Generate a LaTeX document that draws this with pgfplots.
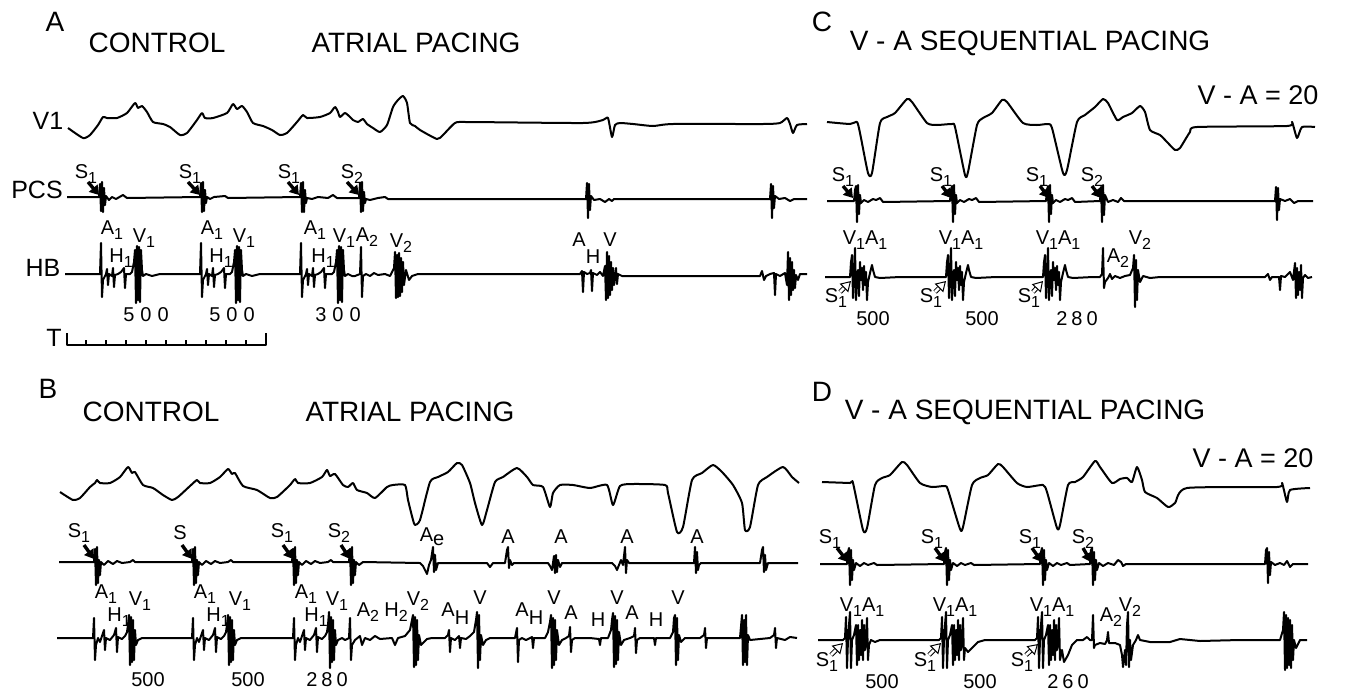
\documentclass[border=0pt]{standalone}
\usepackage{fontspec}
\setmainfont{Liberation Sans}
\usepackage{pgfplots}
\pgfplotsset{compat=1.18}
\usetikzlibrary{arrows.meta}

\newcommand{\sub}[1]{\raisebox{-0.45ex}{\fontsize{8pt}{8pt}\selectfont #1}}
\tikzset{
    trace/.style={black, solid, line width=1pt, line join=round},
    ecg/.style={trace, smooth, tension=0.35},
    ttl/.style={font=\fontsize{14pt}{16pt}\selectfont, inner sep=0pt},
    big/.style={font=\fontsize{12.5pt}{14pt}\selectfont, inner sep=0pt},
    pan/.style={font=\fontsize{14pt}{16pt}\selectfont, inner sep=0pt},
    lab/.style={font=\fontsize{10pt}{11pt}\selectfont, inner sep=0pt},
    num/.style={font=\fontsize{10pt}{11pt}\selectfont, inner sep=0pt},
    sarr/.style={line width=1.7pt, -{Triangle[length=4.5pt,width=5.5pt]}},
    harr/.style={double, double distance=1.3pt, line width=0.5pt, -{Triangle[open,length=5pt,width=6pt]}},
}

\begin{document}
\begin{tikzpicture}
\begin{axis}[
    width=677pt, height=345.5pt, scale only axis,
    xmin=0, xmax=1354, ymin=0, ymax=691, y dir=reverse,
    axis lines=none, clip=false,
    unbounded coords=jump,
]
\path (axis cs:0,0) rectangle (axis cs:1354,691);

% ---------------- panel A ----------------
% V1
\addplot[ecg] coordinates {(68,128)(83,138)(90,135)(98,125)(103,117)(107,118)(117,118)(127,113)(135,103)(138,108)(142,106)(147,112)(153,122)(163,124)(170,127)(180,135)(187,133)(197,120)(202,113)(205,118)(213,118)(227,113)(233,104)(237,109)(242,106)(247,112)(253,123)(263,126)(272,130)(280,135)(287,133)(297,122)(303,115)(307,118)(320,117)(330,113)(335,107)(338,112)(340,117)(345,113)(350,117)(353,120)(358,122)(363,119)(367,124)(373,128)(380,132)(387,125)(393,107)(398,100)(403,96)(407,103)(410,123)(415,126)(420,130)(437,139)(443,135)(455,123)(467,122)(583,123)(603,120)(608,118)(612,137)(615,125)(620,123)(633,124)(653,126)(673,124)(763,124)(780,123)(787,118)(790,124)(793,133)(797,125)(807,124)};
% PCS
\addplot[trace] coordinates {(67,197)(99,197)(100,184)(101,211)(102,182)(103,212)(104,188)(105,205)(106,196)(109,200)(112,197)(116,199)(123,195)(127,198)(200,197)(201,183)(202,212)(203,182)(204,211)(205,190)(206,203)(207,197)(210,199)(214,197)(225,196)(228,198)(300,197)(301,183)(302,212)(303,182)(304,212)(305,190)(306,203)(307,198)(312,199)(318,197)(328,198)(333,195)(337,198)(358,198)(359,198)(360,183)(361,212)(362,182)(363,211)(364,192)(365,203)(366,199)(370,200)(378,198)(385,197)(388,199)(586,199)(587,183)(588,218)(589,184)(590,210)(591,196)(594,200)(600,199)(605,202)(609,199)(612,201)(614,199)(770,199)(771,184)(772,218)(773,186)(774,208)(775,196)(779,199)(785,198)(790,201)(794,199)(807,199)};
% HB
\addplot[trace] coordinates {(65,274)(100,274)(101,243)(102,297)(103,280)(106,274)(107,269)(108,285)(109,274)(112,276)(113,268)(114,287)(115,275)(118,274)(121,272)(124,268)(125,288)(126,274)(130,274)(132,272)(134,262)(135,250)(136,303)(137,246)(138,300)(139,247)(140,302)(141,250)(142,270)(143,276)(146,274)(152,276)(160,274)(200,274)(201,243)(202,297)(203,280)(206,274)(207,269)(208,285)(209,274)(212,276)(213,268)(214,287)(215,275)(218,274)(221,272)(224,268)(225,288)(226,274)(230,274)(232,272)(234,262)(235,250)(236,303)(237,246)(238,300)(239,247)(240,302)(241,250)(242,270)(243,276)(246,274)(252,276)(260,274)(300,274)(301,243)(302,297)(303,280)(306,274)(307,269)(308,285)(309,274)(312,276)(313,268)(314,287)(315,275)(318,274)(321,272)(324,268)(325,288)(326,274)(332,274)(334,272)(336,262)(337,250)(338,303)(339,246)(340,300)(341,247)(342,302)(343,250)(344,270)(345,276)(348,274)(352,276)(355,276)(360,274)(361,247)(362,297)(363,276)(366,274)(370,276)(374,273)(378,275)(385,274)(390,276)(394,268)(395,252)(396,298)(397,255)(398,297)(399,253)(400,296)(401,258)(402,292)(403,262)(404,285)(406,270)(409,280)(412,276)(418,274)(580,274)(582,271)(583,292)(584,272)(587,274)(590,273)(591,270)(592,291)(593,273)(597,275)(600,272)(603,276)(605,266)(606,300)(607,252)(608,298)(609,256)(610,295)(611,262)(612,290)(613,268)(614,285)(616,268)(617,284)(618,274)(622,276)(760,276)(762,271)(764,280)(766,276)(770,274)(774,273)(775,295)(776,274)(780,276)(785,273)(787,285)(788,252)(789,300)(790,258)(791,295)(792,262)(793,290)(794,270)(795,288)(796,275)(798,280)(800,274)(807,274)};
% time bar
\addplot[trace] coordinates {(67,333)(67,345)(266,345)(266,333)};
\addplot[trace] coordinates {(86,340)(86,345)(106,nan)(106,340)(106,345)(126,nan)(126,340)(126,345)(146,nan)(146,340)(146,345)(166,nan)(166,340)(166,345)(186,nan)(186,340)(186,345)(206,nan)(206,340)(206,345)(226,nan)(226,340)(226,345)(246,nan)(246,340)(246,345)};

\node[pan] at (axis cs:55,22) {A};
\node[ttl] at (axis cs:157,43) {CONTROL};
\node[ttl] at (axis cs:416,43) {ATRIAL PACING};
\node[big] at (axis cs:48,121) {V1};
\node[big] at (axis cs:37,190) {PCS};
\node[big] at (axis cs:43,268) {HB};
\node[big] at (axis cs:54,338) {T};
\node[lab] at (axis cs:86,174) {S\sub{1}};
\node[lab] at (axis cs:190,174) {S\sub{1}};
\node[lab] at (axis cs:289,174) {S\sub{1}};
\node[lab] at (axis cs:352,174) {S\sub{2}};
\draw[sarr] (axis cs:88,182) -- (axis cs:99,195);
\draw[sarr] (axis cs:188,182) -- (axis cs:200,195);
\draw[sarr] (axis cs:288,182) -- (axis cs:299,195);
\draw[sarr] (axis cs:347,182) -- (axis cs:359,195);
\node[lab] at (axis cs:112,230) {A\sub{1}};
\node[lab] at (axis cs:121,258) {H\sub{1}};
\node[lab] at (axis cs:144,238) {V\sub{1}};
\node[lab] at (axis cs:212,230) {A\sub{1}};
\node[lab] at (axis cs:221,258) {H\sub{1}};
\node[lab] at (axis cs:244,238) {V\sub{1}};
\node[lab] at (axis cs:315,230) {A\sub{1}};
\node[lab] at (axis cs:323,258) {H\sub{1}};
\node[lab] at (axis cs:344,238) {V\sub{1}};
\node[lab] at (axis cs:367,237) {A\sub{2}};
\node[lab] at (axis cs:401,243) {V\sub{2}};
\node[lab] at (axis cs:579,240) {A};
\node[lab] at (axis cs:593,257) {H};
\node[lab] at (axis cs:610,240) {V};
\node[num] at (axis cs:146,315) {5\hspace{3pt}0\hspace{3pt}0};
\node[num] at (axis cs:232,315) {5\hspace{3pt}0\hspace{3pt}0};
\node[num] at (axis cs:338,315) {3\hspace{3pt}0\hspace{3pt}0};

% ---------------- panel C ----------------
\addplot[ecg] coordinates {(827,122)(850,124)(857,122)(860,133)(868,173)(872,173)(880,123)(887,117)(895,113)(907,99)(912,102)(927,123)(937,125)(952,124)(955,127)(965,175)(968,172)(977,125)(983,118)(992,113)(1002,100)(1007,102)(1023,123)(1037,125)(1048,124)(1052,128)(1063,173)(1067,170)(1077,122)(1085,115)(1095,107)(1103,99)(1108,103)(1117,120)(1123,117)(1132,113)(1140,106)(1145,112)(1150,130)(1160,135)(1167,142)(1175,150)(1180,148)(1190,132)(1197,127)(1287,126)(1292,122)(1297,138)(1302,127)(1315,127)};
\addplot[trace] coordinates {(827,201)(854,201)(855,190)(856,186)(857,222)(858,185)(859,214)(860,195)(861,203)(864,200)(868,202)(873,199)(876,200)(880,198)(883,202)(950,201)(951,190)(952,186)(953,222)(954,185)(955,214)(956,195)(957,203)(960,200)(964,202)(969,199)(972,200)(976,198)(979,202)(1046,201)(1047,190)(1048,186)(1049,222)(1050,185)(1051,214)(1052,195)(1053,203)(1056,200)(1060,202)(1065,199)(1068,200)(1072,198)(1075,202)(1100,201)(1101,187)(1102,222)(1103,185)(1104,215)(1105,195)(1108,202)(1113,200)(1118,202)(1121,198)(1124,201)(1275,201)(1276,187)(1277,220)(1278,188)(1279,210)(1280,199)(1285,201)(1290,199)(1294,203)(1298,201)(1313,201)};
\addplot[trace] coordinates {(825,277)(850,277)(851,262)(852,255)(853,298)(854,277)(855,248)(856,300)(857,275)(858,270)(859,296)(860,262)(861,280)(862,268)(863,290)(864,266)(865,285)(866,272)(867,300)(868,282)(870,273)(872,265)(873,270)(875,277)(880,278)(900,277)(946,277)(947,262)(948,255)(949,298)(950,277)(951,248)(952,300)(953,275)(954,270)(955,296)(956,262)(957,280)(958,268)(959,290)(960,266)(961,285)(962,272)(963,300)(964,282)(966,273)(968,265)(969,270)(971,277)(976,278)(996,277)(1043,277)(1044,262)(1045,255)(1046,298)(1047,277)(1048,248)(1049,300)(1050,275)(1051,270)(1052,296)(1053,262)(1054,280)(1055,268)(1056,290)(1057,266)(1058,285)(1059,272)(1060,300)(1061,282)(1063,273)(1065,265)(1066,270)(1068,277)(1073,278)(1093,277)(1100,277)(1102,274)(1103,248)(1104,288)(1105,282)(1108,278)(1110,274)(1112,279)(1115,276)(1120,278)(1125,276)(1130,275)(1133,268)(1134,255)(1135,307)(1136,260)(1137,300)(1138,270)(1140,282)(1143,276)(1150,278)(1160,277)(1265,277)(1268,274)(1270,280)(1272,277)(1279,277)(1280,290)(1281,276)(1285,277)(1290,272)(1293,280)(1295,263)(1296,298)(1297,268)(1298,295)(1299,272)(1300,290)(1301,265)(1302,298)(1303,278)(1305,275)(1308,278)(1312,277)};

\node[pan] at (axis cs:822,22) {C};
\node[ttl] at (axis cs:1030,43) {V - A SEQUENTIAL PACING};
\node[big, font=\fontsize{13.5pt}{15pt}\selectfont] at (axis cs:1258,95) {V - A = 20};
\node[lab] at (axis cs:843,177) {S\sub{1}};
\node[lab] at (axis cs:941,177) {S\sub{1}};
\node[lab] at (axis cs:1037,177) {S\sub{1}};
\node[lab] at (axis cs:1092,177) {S\sub{2}};
\draw[sarr] (axis cs:843,186) -- (axis cs:853,198);
\draw[sarr] (axis cs:942,186) -- (axis cs:951,198);
\draw[sarr] (axis cs:1040,186) -- (axis cs:1049,198);
\draw[sarr] (axis cs:1092,186) -- (axis cs:1101,198);
\node[lab] at (axis cs:865,240) {V\sub{1}A\sub{1}};
\node[lab] at (axis cs:961,240) {V\sub{1}A\sub{1}};
\node[lab] at (axis cs:1058,240) {V\sub{1}A\sub{1}};
\node[lab] at (axis cs:1118,258) {A\sub{2}};
\node[lab] at (axis cs:1140,240) {V\sub{2}};
\node[lab] at (axis cs:836,298) {S\sub{1}};
\node[lab] at (axis cs:931,298) {S\sub{1}};
\node[lab] at (axis cs:1029,298) {S\sub{1}};
\draw[harr] (axis cs:840,292) -- (axis cs:851,281);
\draw[harr] (axis cs:935,292) -- (axis cs:946,281);
\draw[harr] (axis cs:1033,292) -- (axis cs:1043,281);
\node[num] at (axis cs:873,319) {500};
\node[num] at (axis cs:982,319) {500};
\node[num] at (axis cs:1077,319) {2\hspace{2pt}8\hspace{2pt}0};

% ---------------- panel B ----------------
\addplot[ecg] coordinates {(60,492)(73,500)(80,498)(90,487)(95,483)(97,480)(100,483)(110,483)(120,477)(128,467)(132,473)(135,472)(143,485)(153,488)(163,495)(172,500)(178,497)(190,486)(197,480)(200,483)(210,483)(220,477)(228,469)(232,474)(235,473)(243,486)(257,490)(270,498)(277,497)(290,485)(295,479)(298,483)(310,483)(322,477)(327,470)(330,476)(335,474)(343,485)(348,487)(353,483)(357,490)(367,493)(375,498)(387,487)(393,485)(405,485)(408,500)(413,520)(415,525)(420,520)(430,482)(438,477)(448,472)(457,463)(462,465)(470,483)(475,503)(482,525)(487,510)(495,482)(503,477)(517,468)(527,477)(533,485)(543,487)(550,507)(553,493)(560,485)(573,485)(590,488)(607,485)(613,505)(620,486)(633,484)(665,485)(668,493)(677,532)(683,527)(692,480)(702,473)(713,465)(722,472)(733,485)(742,503)(745,530)(750,527)(758,485)(767,477)(783,467)(792,477)(799,483)};
\addplot[trace] coordinates {(59,562)(94,562)(95,549)(96,585)(97,547)(98,583)(99,560)(100,575)(101,562)(104,565)(108,561)(113,564)(117,561)(122,563)(130,562)(133,560)(135,562)(192,562)(193,549)(194,585)(195,547)(196,583)(197,560)(198,575)(199,562)(202,565)(206,561)(211,564)(215,561)(220,563)(228,562)(231,560)(233,562)(292,562)(293,549)(294,585)(295,547)(296,583)(297,560)(298,575)(299,562)(302,565)(306,561)(311,564)(315,561)(320,563)(328,562)(331,560)(333,562)(349,562)(350,549)(351,585)(352,547)(353,583)(354,560)(355,575)(356,562)(359,565)(363,562)(420,563)(423,566)(426,572)(427,574)(429,565)(431,560)(433,547)(434,572)(435,555)(436,570)(438,563)(487,563)(490,567)(493,563)(505,563)(507,550)(508,547)(509,568)(510,560)(512,565)(514,563)(548,563)(550,566)(552,570)(554,556)(555,573)(556,555)(557,572)(558,560)(560,567)(562,563)(612,563)(615,566)(617,570)(619,565)(621,560)(623,565)(625,547)(626,573)(627,560)(629,563)(694,563)(695,547)(696,573)(697,552)(698,570)(699,565)(701,563)(760,563)(762,550)(763,547)(764,572)(765,555)(766,570)(768,563)(798,563)};
\addplot[trace] coordinates {(57,638)(93,638)(94,618)(95,660)(96,645)(98,638)(100,642)(102,636)(104,630)(105,650)(106,638)(110,640)(114,635)(116,628)(117,652)(118,637)(122,639)(125,636)(127,632)(128,625)(129,615)(130,665)(131,617)(132,662)(133,620)(134,660)(135,630)(136,645)(138,640)(142,638)(192,638)(193,618)(194,660)(195,645)(197,638)(199,642)(201,636)(203,630)(204,650)(205,638)(209,640)(213,635)(215,628)(216,652)(217,637)(221,639)(224,636)(226,632)(227,625)(228,615)(229,665)(230,617)(231,662)(232,620)(233,660)(234,630)(235,645)(237,640)(241,638)(293,638)(294,618)(295,660)(296,645)(298,638)(300,642)(302,636)(304,630)(305,650)(306,638)(310,640)(314,635)(316,628)(317,652)(318,637)(322,639)(325,636)(327,632)(328,625)(329,612)(330,668)(331,617)(332,662)(333,620)(334,660)(335,630)(336,645)(338,640)(342,638)(345,640)(349,638)(350,618)(351,660)(352,645)(355,640)(360,636)(362,645)(365,638)(370,640)(375,636)(380,639)(392,638)(395,645)(398,638)(405,636)(410,630)(412,620)(413,615)(414,667)(415,617)(416,665)(417,620)(418,660)(419,635)(421,645)(423,643)(427,639)(432,638)(445,638)(448,635)(449,630)(450,652)(451,638)(455,640)(459,636)(460,648)(461,638)(466,639)(470,636)(474,632)(476,620)(477,612)(478,668)(479,615)(480,660)(481,635)(483,645)(486,640)(490,638)(515,638)(517,628)(518,662)(519,640)(522,638)(526,640)(532,637)(533,648)(534,638)(545,638)(548,632)(550,622)(551,615)(552,668)(553,618)(554,665)(555,620)(556,660)(557,630)(559,645)(562,640)(566,638)(569,636)(570,627)(571,652)(572,640)(575,638)(590,638)(599,639)(600,645)(601,638)(608,638)(611,630)(612,620)(613,613)(614,667)(615,616)(616,664)(617,620)(618,660)(619,632)(621,645)(624,640)(630,638)(634,636)(635,628)(636,653)(637,640)(640,638)(654,638)(655,645)(656,638)(670,638)(673,632)(674,618)(675,615)(676,665)(677,618)(678,660)(679,635)(681,642)(685,638)(700,638)(704,635)(705,628)(706,648)(707,638)(715,638)(740,638)(742,615)(743,665)(744,620)(745,662)(746,615)(747,665)(748,635)(750,640)(770,638)(774,635)(775,628)(776,648)(777,638)(785,640)(790,637)(797,638)};

\node[pan] at (axis cs:48,389) {B};
\node[ttl] at (axis cs:151,412) {CONTROL};
\node[ttl] at (axis cs:410,412) {ATRIAL PACING};
\node[lab] at (axis cs:79,533) {S\sub{1}};
\node[lab] at (axis cs:180,533) {S};
\node[lab] at (axis cs:282,533) {S\sub{1}};
\node[lab] at (axis cs:339,533) {S\sub{2}};
\draw[sarr] (axis cs:84,545) -- (axis cs:94,559);
\draw[sarr] (axis cs:182,545) -- (axis cs:192,559);
\draw[sarr] (axis cs:283,545) -- (axis cs:293,559);
\draw[sarr] (axis cs:341,545) -- (axis cs:350,559);
\node[lab] at (axis cs:432,537) {A\raisebox{-0.4ex}{e}};
\node[lab] at (axis cs:508,537) {A};
\node[lab] at (axis cs:561,537) {A};
\node[lab] at (axis cs:627,537) {A};
\node[lab] at (axis cs:697,537) {A};
\node[lab] at (axis cs:106,594) {A\sub{1}};
\node[lab] at (axis cs:119,617) {H\sub{1}};
\node[lab] at (axis cs:140,601) {V\sub{1}};
\node[lab] at (axis cs:205,594) {A\sub{1}};
\node[lab] at (axis cs:218,617) {H\sub{1}};
\node[lab] at (axis cs:240,601) {V\sub{1}};
\node[lab] at (axis cs:306,594) {A\sub{1}};
\node[lab] at (axis cs:316,617) {H\sub{1}};
\node[lab] at (axis cs:337,601) {V\sub{1}};
\node[lab] at (axis cs:368,612) {A\sub{2}};
\node[lab] at (axis cs:396,612) {H\sub{2}};
\node[lab] at (axis cs:418,601) {V\sub{2}};
\node[lab] at (axis cs:448,610) {A};
\node[lab] at (axis cs:462,618) {H};
\node[lab] at (axis cs:480,598) {V};
\node[lab] at (axis cs:522,610) {A};
\node[lab] at (axis cs:536,618) {H};
\node[lab] at (axis cs:554,598) {V};
\node[lab] at (axis cs:571,613) {A};
\node[lab] at (axis cs:598,620) {H};
\node[lab] at (axis cs:617,598) {V};
\node[lab] at (axis cs:632,613) {A};
\node[lab] at (axis cs:656,620) {H};
\node[lab] at (axis cs:678,598) {V};
\node[num] at (axis cs:148,680) {500};
\node[num] at (axis cs:248,680) {500};
\node[num] at (axis cs:327,680) {2\hspace{2pt}8\hspace{2pt}0};

% ---------------- panel D ----------------
\addplot[ecg] coordinates {(822,482)(850,483)(853,483)(863,530)(867,528)(875,485)(882,478)(890,475)(902,462)(907,465)(920,483)(932,487)(945,486)(948,490)(960,529)(963,527)(972,485)(980,478)(988,475)(998,464)(1003,467)(1017,483)(1027,487)(1043,485)(1047,492)(1057,528)(1060,525)(1068,485)(1075,482)(1083,477)(1095,461)(1100,467)(1112,483)(1120,479)(1127,478)(1132,482)(1137,467)(1142,480)(1145,492)(1157,498)(1168,507)(1175,503)(1187,488)(1277,487)(1282,483)(1287,502)(1290,490)(1310,488)};
\addplot[trace] coordinates {(820,564)(847,564)(848,552)(849,548)(850,585)(851,550)(852,580)(853,560)(854,570)(856,563)(860,566)(864,563)(868,565)(874,563)(877,565)(944,564)(945,552)(946,548)(947,585)(948,550)(949,580)(950,560)(951,570)(953,563)(957,566)(961,563)(965,565)(971,563)(974,565)(1040,564)(1041,552)(1042,548)(1043,585)(1044,550)(1045,580)(1046,560)(1047,570)(1049,563)(1053,566)(1057,563)(1061,565)(1067,563)(1070,565)(1090,564)(1091,550)(1092,548)(1093,585)(1094,552)(1095,580)(1096,560)(1097,570)(1099,563)(1103,566)(1108,563)(1114,565)(1118,560)(1121,562)(1123,566)(1126,564)(1265,564)(1266,550)(1267,548)(1268,583)(1269,552)(1270,575)(1271,562)(1275,565)(1280,563)(1284,565)(1287,561)(1290,567)(1293,564)(1308,564)};
\addplot[trace] coordinates {(818,640)(843,640)(845,638)(846,617)(847,668)(848,640)(849,625)(850,612)(851,668)(852,640)(854,635)(856,625)(857,665)(858,625)(859,660)(860,630)(861,655)(862,620)(863,660)(864,625)(865,650)(866,640)(867,618)(868,660)(869,645)(871,640)(875,642)(880,640)(939,640)(941,638)(942,617)(943,668)(944,640)(945,625)(946,612)(947,668)(948,640)(950,635)(952,625)(953,665)(954,625)(955,660)(956,630)(957,655)(958,620)(959,660)(960,625)(961,650)(962,640)(963,618)(964,660)(965,648)(968,652)(972,648)(978,642)(985,640)(1035,640)(1037,638)(1038,617)(1039,668)(1040,640)(1041,625)(1042,612)(1043,668)(1044,640)(1046,635)(1048,625)(1049,665)(1050,625)(1051,660)(1052,630)(1053,655)(1054,620)(1055,660)(1056,625)(1057,650)(1058,640)(1059,618)(1060,660)(1062,650)(1064,662)(1068,655)(1072,645)(1077,640)(1083,640)(1087,637)(1090,640)(1092,640)(1093,615)(1094,648)(1095,645)(1100,643)(1105,644)(1107,640)(1108,632)(1109,643)(1115,643)(1120,645)(1122,655)(1123,667)(1125,650)(1126,665)(1127,625)(1128,612)(1129,667)(1130,640)(1131,660)(1133,645)(1136,640)(1138,635)(1140,640)(1150,642)(1170,642)(1180,639)(1200,641)(1240,640)(1280,640)(1283,630)(1284,612)(1285,670)(1286,615)(1287,668)(1288,618)(1289,665)(1290,620)(1291,668)(1292,625)(1293,660)(1294,640)(1296,648)(1300,640)(1307,640)};

\node[pan] at (axis cs:822,392) {D};
\node[ttl] at (axis cs:1025,412) {V - A SEQUENTIAL PACING};
\node[big, font=\fontsize{13.5pt}{15pt}\selectfont] at (axis cs:1253,458) {V - A = 20};
\node[lab] at (axis cs:830,539) {S\sub{1}};
\node[lab] at (axis cs:932,539) {S\sub{1}};
\node[lab] at (axis cs:1030,539) {S\sub{1}};
\node[lab] at (axis cs:1083,539) {S\sub{2}};
\draw[sarr] (axis cs:837,548) -- (axis cs:848,562);
\draw[sarr] (axis cs:935,548) -- (axis cs:945,562);
\draw[sarr] (axis cs:1032,548) -- (axis cs:1042,562);
\draw[sarr] (axis cs:1083,548) -- (axis cs:1091,562);
\node[lab] at (axis cs:862,607) {V\sub{1}A\sub{1}};
\node[lab] at (axis cs:955,607) {V\sub{1}A\sub{1}};
\node[lab] at (axis cs:1052,607) {V\sub{1}A\sub{1}};
\node[lab] at (axis cs:1111,617) {A\sub{2}};
\node[lab] at (axis cs:1130,607) {V\sub{2}};
\node[lab] at (axis cs:827,662) {S\sub{1}};
\node[lab] at (axis cs:925,662) {S\sub{1}};
\node[lab] at (axis cs:1022,662) {S\sub{1}};
\draw[harr] (axis cs:831,655) -- (axis cs:843,643);
\draw[harr] (axis cs:929,655) -- (axis cs:941,643);
\draw[harr] (axis cs:1026,655) -- (axis cs:1038,644);
\node[num] at (axis cs:882,682) {500};
\node[num] at (axis cs:980,682) {500};
\node[num] at (axis cs:1068,682) {2\hspace{2pt}6\hspace{2pt}0};
\end{axis}
\end{tikzpicture}
\end{document}
